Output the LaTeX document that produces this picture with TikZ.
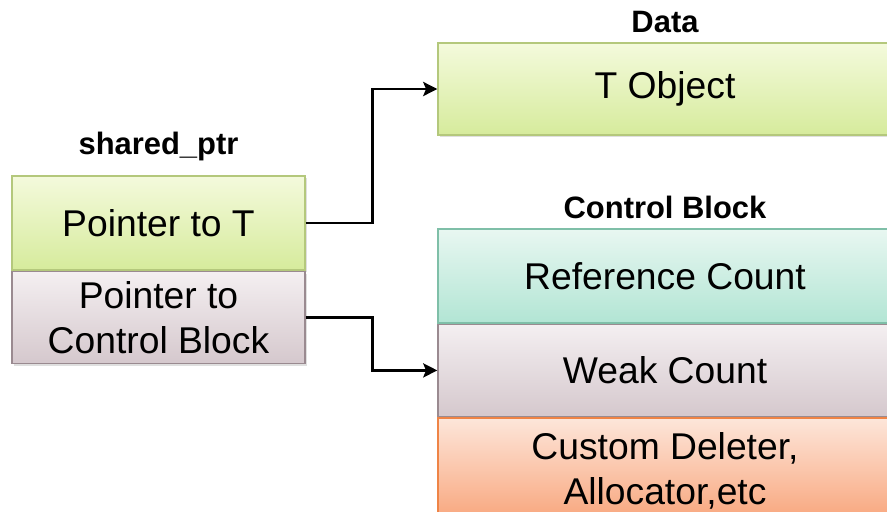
\documentclass[tikz,border=0pt]{standalone}
\usepackage{fontspec}
\setmainfont{Liberation Sans}
\usepackage{xcolor}
\usetikzlibrary{arrows, arrows.meta, positioning, shadows}

\definecolor{greentop}{HTML}{F4FADC}
\definecolor{greenbot}{HTML}{D6EB9C}
\definecolor{greenline}{HTML}{B4C87C}
\definecolor{pinktop}{HTML}{F4EFF1}
\definecolor{pinkbot}{HTML}{D5C8CD}
\definecolor{pinkline}{HTML}{9A8A90}
\definecolor{tealtop}{HTML}{E8F7F1}
\definecolor{tealbot}{HTML}{B2E5D4}
\definecolor{tealline}{HTML}{7FBFA8}
\definecolor{orangetop}{HTML}{FDE6DA}
\definecolor{orangebot}{HTML}{F8A47A}
\definecolor{orangeline}{HTML}{EF8446}

\begin{document}
\begin{tikzpicture}[
    node distance=0pt,
    block/.style={rectangle, draw, line width=1pt, align=center, inner sep=0pt,
        font=\fontsize{26.5}{32}\selectfont,
        drop shadow={opacity=0.25, shadow xshift=0.06cm, shadow yshift=-0.06cm}},
    greenbox/.style={block, draw=greenline, top color=greentop, bottom color=greenbot},
    pinkbox/.style={block, draw=pinkline, top color=pinktop, bottom color=pinkbot},
    tealbox/.style={block, draw=tealline, top color=tealtop, bottom color=tealbot},
    orangebox/.style={block, draw=orangeline, top color=orangetop, bottom color=orangebot},
    title/.style={font=\bfseries\fontsize{22}{26}\selectfont},
    arrow/.style={-{Stealth[length=10pt, width=10pt, inset=2pt]}, line width=2pt}
]
\useasboundingbox (0,0) rectangle (22.175,-12.775);
\clip (0,0) rectangle (22.175,-12.775);

% shared_ptr
\node[greenbox, minimum width=7.325cm, minimum height=2.35cm] (ptrT) at (3.9625,-5.575) {Pointer to T};
\node[pinkbox, minimum width=7.325cm, minimum height=2.3cm, below=of ptrT] (ptrCB) {Pointer to\\Control Block};
\node[title, above=0.23cm of ptrT] (sptr) {shared\_ptr};

% Data
\node[greenbox, minimum width=11.35cm, minimum height=2.3cm] (tobj) at (16.625,-2.225) {T Object};
\node[title, above=0.12cm of tobj] (data) {Data};

% Control Block
\node[tealbox, minimum width=11.35cm, minimum height=2.35cm] (refc) at (16.625,-6.9) {Reference Count};
\node[pinkbox, minimum width=11.35cm, minimum height=2.3cm, below=of refc] (weak) {Weak Count};
\node[orangebox, minimum width=11.35cm, minimum height=2.65cm, below=of weak] (cust) {Custom Deleter,\\Allocator,etc};
\node[title, above=0.12cm of refc] (cb) {Control Block};

% Arrows
\draw[arrow] (ptrT.east) -- ++(1.675,0) |- (tobj.west);
\draw[arrow] (ptrCB.east) -- ++(1.675,0) |- (weak.west);

\end{tikzpicture}
\end{document}
